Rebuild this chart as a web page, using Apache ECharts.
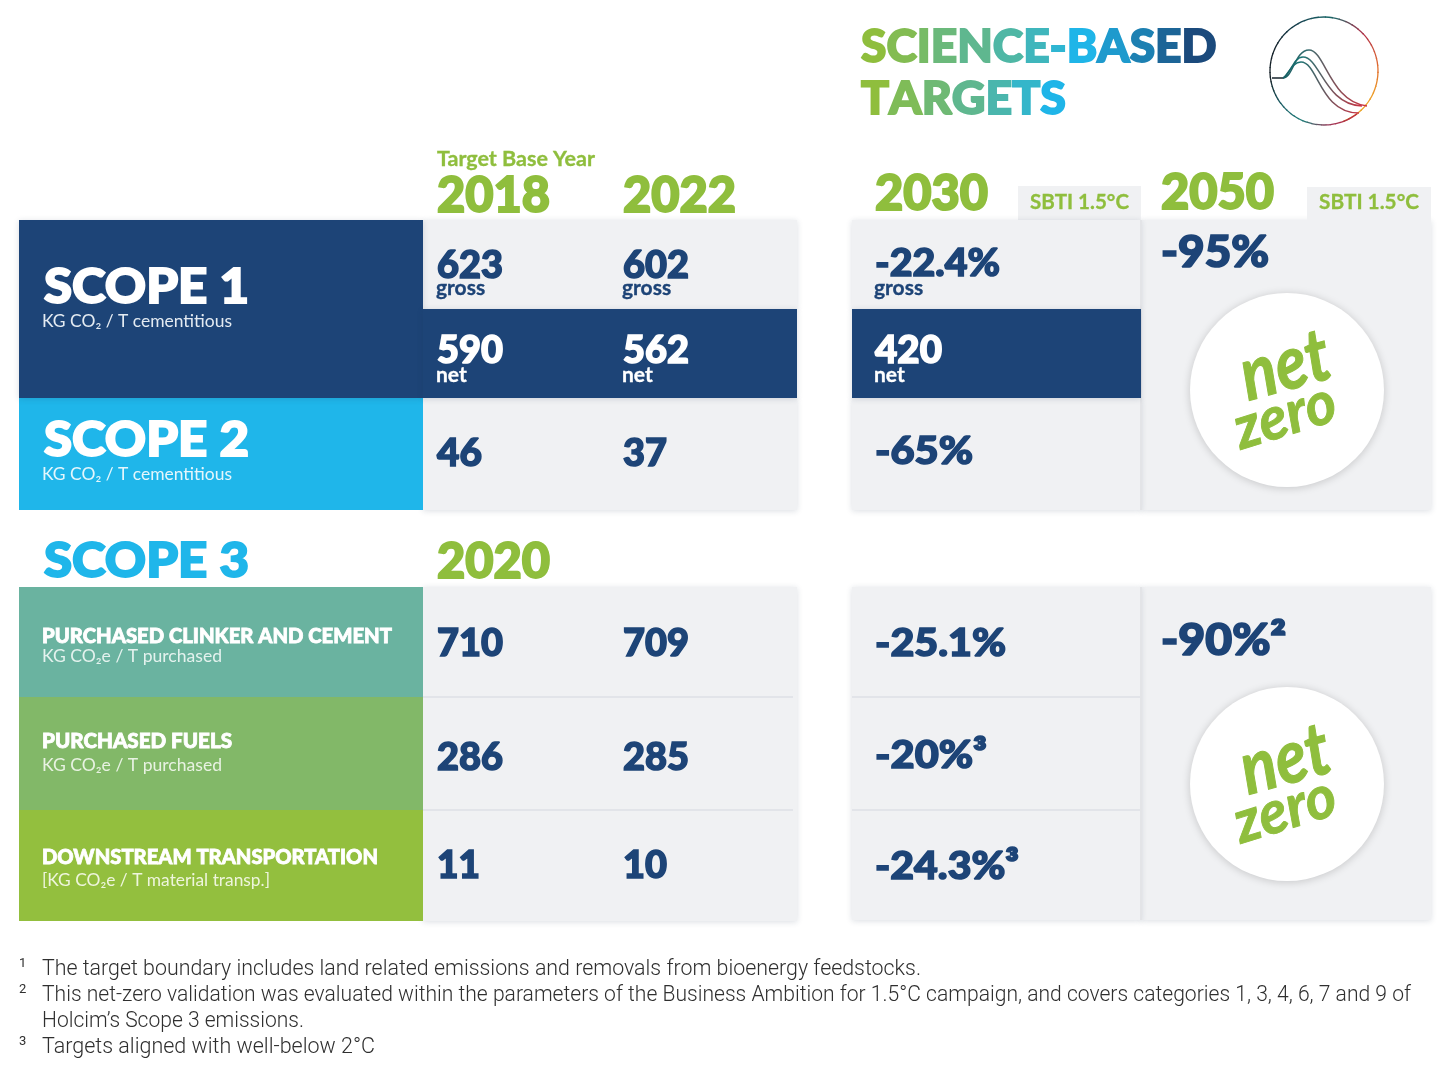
<!DOCTYPE html>
<html>
<head>
<meta charset="utf-8">
<title>Science-based targets</title>
<script src="https://cdn.jsdelivr.net/npm/echarts@6/dist/echarts.min.js"></script>
<style>
  html, body { margin: 0; padding: 0; background: #fff; }
  #myChart { width: 1450px; height: 1074px; }
</style>
</head>
<body>
<div id="myChart"></div>
<script>
// values
const years = ['2018', '2022', '2030', '2050']
const scope3Year = '2020'
const scope1Gross = [623, 602]
const scope1Net = [590, 562]
const scope2Values = [46, 37]
const clinkerValues = [710, 709]
const fuelValues = [286, 285]
const transportValues = [11, 10]
const targets2030 = ['-22.4%', '420', '-65%', '-25.1%', '-20%³', '-24.3%³']
const targets2050 = ['-95%', '-90%²']
const scopeNames = ['SCOPE 1', 'SCOPE 2', 'SCOPE 3']
const scope3Names = ['PURCHASED CLINKER AND CEMENT', 'PURCHASED FUELS', 'DOWNSTREAM TRANSPORTATION']
const unitLabels = ['KG CO₂ / T cementitious', 'KG CO₂ / T cementitious', 'KG CO₂e / T purchased', 'KG CO₂e / T purchased', '[KG CO₂e / T material transp.]']
const footnoteMarks = ['1', '2', '', '3']
const footnotes = [
  'The target boundary includes land related emissions and removals from bioenergy feedstocks.',
  'This net-zero validation was evaluated within the parameters of the Business Ambition for 1.5°C campaign, and covers categories 1, 3, 4, 6, 7 and 9 of',
  'Holcim’s Scope 3 emissions.',
  'Targets aligned with well-below 2°C'
]

const NAVY = '#1d4477', CYAN = '#1fb6ea', GREEN = '#8fbe3d', PANEL = '#f0f1f3'
const SANS = 'Lato'
const colX = [437, 623, 875, 1161]

let items = []
const measure = document.createElement('canvas').getContext('2d')

function box (x, y, w, h, fill, shadow) {
  items.push({ kind: 'rect', x, y, w, h, fill, shadow })
}
// width = width in the reference, the text is squeezed to it
function label (x, y, text, size, fill, weight, width, family) {
  items.push({ kind: 'text', x, y: y + 1, text: String(text), size, fill, weight: weight || 900, width, family: family || SANS })
}
function mix (a, b, t) {
  const p = s => [1, 3, 5].map(i => parseInt(s.substr(i, 2), 16))
  const ca = p(a), cb = p(b)
  return 'rgb(' + ca.map((v, i) => Math.round(v + (cb[i] - v) * t)).join(',') + ')'
}
function ramp (stops, t) {
  const n = stops.length - 1
  const i = Math.min(Math.floor(t * n), n - 1)
  return mix(stops[i], stops[i + 1], t * n - i)
}
// heavy fonts are not installed, a stroke in the text colour makes up for it
function heavy (size, weight) {
  return weight >= 900 ? size * 0.04 : (weight >= 700 ? size * 0.015 : 0)
}
function gradientTitle (x, y, text, size, stops, width) {
  const rich = {}
  const parts = text.split('').map((c, i) => {
    const color = ramp(stops, i / (text.length - 1))
    rich['c' + i] = { fill: color, stroke: color, lineWidth: heavy(size, 900), fontSize: size, fontWeight: 900, fontFamily: SANS }
    return '{c' + i + '|' + c + '}'
  })
  items.push({ kind: 'text', x, y, text: parts.join(''), rich, plain: text, size, fill: NAVY, weight: 900, width, family: SANS })
}
function netZero (cx, cy) {
  items.push({ kind: 'circle', cx, cy, r: 97 })
  items.push({ kind: 'text', x: cx - 2, y: cy - 24, text: 'net', size: 74, fill: GREEN, weight: 700, family: SANS, italic: true, rotate: 0.27, center: true, width: 90 })
  items.push({ kind: 'text', x: cx - 2, y: cy + 26, text: 'zero', size: 60, fill: GREEN, weight: 700, family: SANS, italic: true, rotate: 0.3, center: true, width: 104 })
}

// gray panels, lower rows first so the shadow of the upper row falls on them
box(1141, 220, 290, 290, PANEL, true)
box(1018, 186, 123, 40, PANEL)
box(1307, 187, 124, 40, PANEL)
box(852, 398, 289, 112, PANEL, true)
box(852, 220, 289, 89, PANEL, true)
box(423, 398, 374, 112, PANEL, true)
box(423, 220, 374, 89, PANEL, true)
box(1141, 587, 290, 333, PANEL, true)
box(852, 587, 289, 333, PANEL, true)
box(423, 587, 374, 334, PANEL, true)
box(423, 696, 370, 2, '#e2e4e9')
box(423, 809, 370, 2, '#e2e4e9')
box(852, 696, 289, 2, '#e2e4e9')
box(852, 809, 289, 2, '#e2e4e9')
box(1140, 220, 2, 290, '#e3e4e7')
box(1140, 587, 2, 333, '#e3e4e7')
// coloured row headers
box(19, 398, 404, 112, CYAN)
box(19, 220, 404, 178, NAVY, true)
box(423, 309, 374, 89, NAVY, true)
box(852, 309, 289, 89, NAVY, true)
box(19, 810, 404, 111, '#93bf3e')
box(19, 697, 404, 113, '#82b868')
box(19, 587, 404, 110, '#6ab3a0')

netZero(1287, 390)
netZero(1287, 784)

gradientTitle(861, 47, 'SCIENCE-BASED', 45, ['#8fbe3d', '#5fb78f', '#1fb5e8', '#1b4a7c'], 355)
gradientTitle(861, 99, 'TARGETS', 45, ['#8fbe3d', '#5fb78f', '#1fb5e8'], 201)

label(437, 158, 'Target Base Year', 21, GREEN, 700, 158)
label(colX[0], 195, years[0], 50, GREEN, 900, 113)
label(colX[1], 195, years[1], 50, GREEN, 900, 113)
label(colX[2], 193, years[2], 50, GREEN, 900, 113)
label(colX[3], 192, years[3], 50, GREEN, 900, 113)
label(1030, 202, 'SBTI 1.5°C', 20, GREEN, 700, 99)
label(1319, 202, 'SBTI 1.5°C', 20, GREEN, 700, 100)

label(44, 287, scopeNames[0], 48, '#fff', 900, 205)
label(42, 321, unitLabels[0], 17, '#e4ebf2', 400, 190)
label(44, 440, scopeNames[1], 48, '#fff', 900, 205)
label(42, 474, unitLabels[1], 17, '#e4f6fc', 400, 190)
label(44, 561, scopeNames[2], 48, CYAN, 900, 205)
label(colX[0], 561, scope3Year, 50, GREEN, 900, 113)

label(42, 636, scope3Names[0], 20, '#fff', 900, 350)
label(42, 656, unitLabels[2], 17, '#e4f2ee', 400, 180)
label(42, 741, scope3Names[1], 20, '#fff', 900, 190)
label(42, 765, unitLabels[3], 17, '#e8f2e2', 400, 180)
label(42, 857, scope3Names[2], 20, '#fff', 900, 336)
label(42, 880, unitLabels[4], 17, '#eef5dc', 400, 228)

const VAL = 38
scope1Gross.forEach((v, i) => {
  label(colX[i], 265, v, VAL, NAVY, 900, 66)
  label(colX[i] - 1, 287, 'gross', 21, NAVY, 700)
})
scope1Net.forEach((v, i) => {
  label(colX[i], 350, v, VAL, '#fff', 900, 66)
  label(colX[i] - 1, 374, 'net', 21, '#fff', 700)
})
scope2Values.forEach((v, i) => label(colX[i], 453, v, VAL, NAVY, 900, i ? 44 : 45))
clinkerValues.forEach((v, i) => label(colX[i], 643, v, VAL, NAVY, 900, 66))
fuelValues.forEach((v, i) => label(colX[i], 757, v, VAL, NAVY, 900, 66))
transportValues.forEach((v, i) => label(colX[i], 865, v, VAL, NAVY, 900, i ? 44 : 43))

label(colX[2], 263, targets2030[0], VAL, NAVY, 900, 125)
label(colX[2] - 1, 287, 'gross', 21, NAVY, 700)
label(colX[2], 350, targets2030[1], VAL, '#fff', 900, 67)
label(colX[2] - 1, 374, 'net', 21, '#fff', 700)
label(colX[2], 451, targets2030[2], VAL, NAVY, 900, 98)
label(colX[2], 643, targets2030[3], VAL, NAVY, 900, 131)
label(colX[2], 755, targets2030[4], VAL, NAVY, 900, 112)
label(colX[2], 866, targets2030[5], VAL, NAVY, 900, 144)
label(colX[3], 252, targets2050[0], 43, NAVY, 900, 108)
label(colX[3], 640, targets2050[1], 43, NAVY, 900, 125)

const FOOT_Y = [968, 994, 1020, 1046]
footnotes.forEach((t, i) => {
  label(42, FOOT_Y[i], t, 22, '#2f2f2f', 300, [879, 1369, 262, 333][i], 'Roboto')
  if (footnoteMarks[i]) label(19, FOOT_Y[i] - 5, footnoteMarks[i], 13, '#2f2f2f', 400, null, 'Roboto')
})

// Small logo next to the title
const LOGO = { cx: 1324, cy: 71, r: 54 }
const ringTop = ['#15222b', '#15404f', '#1a6a6a', '#b0304a', '#e06a30', '#eea328', '#e8a92e']
const ringBottom = ['#c2303f', '#a03455', '#1f7c78', '#1d5e66', '#141e24', '#15222b']
function ringSegments (from, to, stops) {
  const n = 30
  for (let i = 0; i < n; i++) {
    items.push({ kind: 'arc', start: from + (to - from) * i / n, end: from + (to - from) * (i + 1.15) / n, stroke: ramp(stops, (i + 0.5) / n) })
  }
}
ringSegments(Math.PI * 1.13, Math.PI * 2.38, ringTop)
ringSegments(Math.PI * 0.29, Math.PI * 1.13, ringBottom)
const lineStroke = ['#174a55', '#1a7a78', '#c9304a', '#d6303f']
function curve (points) {
  for (let i = 0; i + 3 < points.length; i += 3) {
    items.push({ kind: 'curve', p: points.slice(i, i + 4), stroke: ramp(lineStroke, Math.min(1, (points[i][0] - 1272) / 95)), end: ramp(lineStroke, Math.min(1, (points[i + 3][0] - 1272) / 95)) })
  }
}
items.push({ kind: 'curve', p: [[1272, 78], [1276, 78], [1279, 78], [1283, 78]], stroke: '#15222b', end: '#15222b' })
curve([[1283, 78], [1293, 78], [1295, 50], [1309, 50], [1325, 50], [1330, 102], [1367, 106]])
curve([[1283, 78], [1290, 76], [1293, 57], [1303, 57], [1320, 57], [1325, 105], [1362, 106]])
curve([[1283, 78], [1288, 75], [1292, 62], [1301, 62], [1318, 62], [1320, 113], [1359, 113]])

function renderItem (params, api) {
  const it = items[params.dataIndex]
  if (it.kind === 'rect') {
    const p = api.coord([it.x, it.y])
    const q = api.coord([it.x + it.w, it.y + it.h])
    const style = { fill: it.fill }
    if (it.shadow) {
      style.shadowBlur = 6
      style.shadowColor = 'rgba(30,50,80,0.16)'
      style.shadowOffsetY = 1
    }
    return { type: 'rect', shape: { x: p[0], y: p[1], width: q[0] - p[0], height: q[1] - p[1] }, style }
  }
  if (it.kind === 'circle') {
    const c = api.coord([it.cx, it.cy])
    return { type: 'circle', shape: { cx: c[0], cy: c[1], r: it.r }, style: { fill: '#fff', shadowBlur: 8, shadowColor: 'rgba(0,0,0,0.18)', shadowOffsetY: 1 } }
  }
  if (it.kind === 'arc') {
    const c = api.coord([LOGO.cx, LOGO.cy])
    return { type: 'arc', shape: { cx: c[0], cy: c[1], r: LOGO.r, startAngle: it.start, endAngle: it.end }, style: { fill: null, stroke: it.stroke, lineWidth: 1.3 } }
  }
  if (it.kind === 'curve') {
    const p = it.p.map(v => api.coord(v))
    return {
      type: 'bezierCurve',
      shape: { x1: p[0][0], y1: p[0][1], cpx1: p[1][0], cpy1: p[1][1], cpx2: p[2][0], cpy2: p[2][1], x2: p[3][0], y2: p[3][1] },
      style: {
        fill: null,
        lineWidth: 1.5,
        stroke: new echarts.graphic.LinearGradient(0, 0, 1, 0, [{ offset: 0, color: it.stroke }, { offset: 1, color: it.end }])
      }
    }
  }
  const pos = api.coord([it.x, it.y])
  const font = (it.italic ? 'italic ' : '') + it.weight + ' ' + it.size + 'px ' + it.family
  measure.font = font
  const plain = it.plain || it.text
  const scale = it.width ? it.width / measure.measureText(plain).width : 1
  const style = {
    text: it.text,
    fill: it.fill,
    font,
    textAlign: it.center ? 'center' : 'left',
    textVerticalAlign: 'middle'
  }
  const stroke = heavy(it.size, it.weight)
  if (stroke && !it.rich) {
    style.stroke = it.fill
    style.lineWidth = stroke
    style.lineJoin = 'round'
  }
  if (it.rich) style.rich = it.rich
  return { type: 'text', x: pos[0], y: pos[1], scaleX: scale, rotation: it.rotate || 0, style }
}

const myChart = echarts.init(document.getElementById('myChart'), null, { renderer: 'canvas' })
myChart.setOption({
  animation: false,
  backgroundColor: '#fff',
  grid: { left: 0, right: 0, top: 0, bottom: 0 },
  xAxis: { type: 'value', min: 0, max: 1450, show: false },
  yAxis: { type: 'value', min: 0, max: 1074, inverse: true, show: false },
  series: [{
    type: 'custom',
    coordinateSystem: 'cartesian2d',
    silent: true,
    clip: false,
    renderItem,
    data: items.map((it, i) => [i])
  }]
})
</script>
</body>
</html>
